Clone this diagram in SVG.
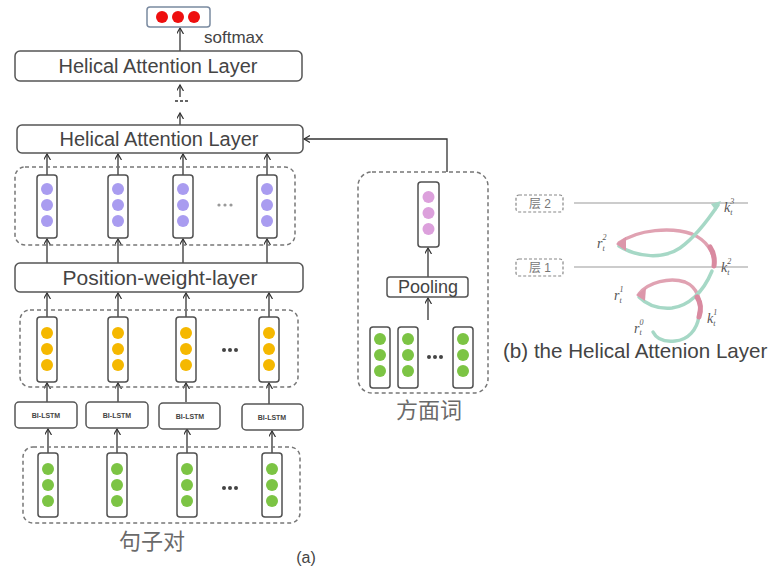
<svg xmlns="http://www.w3.org/2000/svg" width="771" height="570" viewBox="0 0 771 570">
<defs>
<style>
.box{fill:#fff;stroke:#555;stroke-width:1.5}
.vec{fill:#fff;stroke:#505050;stroke-width:1.5}
.dash{fill:none;stroke:#777;stroke-width:1.5;stroke-dasharray:4 3}
.lbl{font-family:"Liberation Sans",Arial,sans-serif;fill:#444;text-anchor:middle}
.cjk{font-family:"Liberation Serif","Noto Sans CJK SC",serif;fill:#6a6a6a;text-anchor:middle}
.arr{fill:none;stroke:#333;stroke-width:1.3;marker-end:url(#ah)}
.pu{fill:#a99cf0}.ye{fill:#f5b800}.gr{fill:#7cc444}.pk{fill:#dca0dc}.rd{fill:#ee0f0f}
.ell{fill:#444}.ell2{fill:#999}
.m{font-family:"Liberation Serif",serif;font-style:italic;fill:#555;font-size:14px}
.s{font-size:8px}
.hp{fill:none;stroke:#e0a2b2;stroke-width:3.5;stroke-linecap:round}
.hg{fill:none;stroke:#a6d8c6;stroke-width:3.5;stroke-linecap:round}
</style>
<marker id="ah" markerWidth="8" markerHeight="8" refX="6" refY="3.5" orient="auto" markerUnits="userSpaceOnUse">
<path d="M0,0 L6,3.5 L0,7" fill="none" stroke="#333" stroke-width="1.2"/>
</marker>
</defs>
<rect width="771" height="570" fill="#fff"/>

<!-- connectors -->
<g id="connectors">
<line class="arr" x1="180" y1="51" x2="180" y2="28"/>
<line class="arr" x1="180" y1="97" x2="180" y2="85"/>
<line x1="175" y1="101" x2="189" y2="101" stroke="#333" stroke-width="1.3" stroke-dasharray="3 2"/>
<line class="arr" x1="180" y1="125" x2="180" y2="113"/>
<line class="arr" x1="47" y1="175" x2="47" y2="154"/>
<line class="arr" x1="118" y1="175" x2="118" y2="154"/>
<line class="arr" x1="183" y1="175" x2="183" y2="154"/>
<line class="arr" x1="267" y1="175" x2="267" y2="154"/>
<line class="arr" x1="47" y1="263" x2="47" y2="239"/>
<line class="arr" x1="118" y1="263" x2="118" y2="239"/>
<line class="arr" x1="183" y1="263" x2="183" y2="239"/>
<line class="arr" x1="267" y1="263" x2="267" y2="239"/>
<line class="arr" x1="47" y1="317" x2="47" y2="293"/>
<line class="arr" x1="118" y1="317" x2="118" y2="293"/>
<line class="arr" x1="186" y1="317" x2="186" y2="293"/>
<line class="arr" x1="269" y1="317" x2="269" y2="293"/>
<line class="arr" x1="47" y1="402" x2="47" y2="383"/>
<line class="arr" x1="118" y1="402" x2="118" y2="383"/>
<line class="arr" x1="186" y1="402" x2="186" y2="383"/>
<line class="arr" x1="269" y1="404" x2="269" y2="383"/>
<line class="arr" x1="48" y1="453" x2="48" y2="429"/>
<line class="arr" x1="117" y1="453" x2="117" y2="429"/>
<line class="arr" x1="187" y1="453" x2="187" y2="429"/>
<line class="arr" x1="272" y1="453" x2="272" y2="431"/>
<line class="arr" x1="428" y1="320" x2="428" y2="298"/>
<line class="arr" x1="428" y1="277" x2="428" y2="248"/>
<path class="arr" d="M447,172 V139 H304"/>
</g>

<!-- softmax output -->
<g id="softmax">
<rect x="147" y="7" width="63" height="20" rx="3" fill="#fff" stroke="#7a8aa0" stroke-width="1.5"/>
<circle class="rd" cx="162" cy="17" r="6"/>
<circle class="rd" cx="178" cy="17" r="6"/>
<circle class="rd" cx="194" cy="17" r="6"/>
<text class="lbl" x="204" y="43" font-size="17" style="text-anchor:start">softmax</text>
</g>

<g id="hal2">
<rect class="box" x="15" y="51" width="287" height="30" rx="5"/>
<text class="lbl" x="158" y="73" font-size="20">Helical Attention Layer</text>
</g>

<g id="hal1">
<rect class="box" x="17" y="125" width="286" height="28" rx="5"/>
<text class="lbl" x="159" y="146" font-size="20">Helical Attention Layer</text>
</g>

<g id="purple-vectors">
<rect class="dash" x="15" y="167" width="280" height="78" rx="10"/>
<rect class="vec" x="37" y="175" width="20" height="63" rx="3"/>
<circle class="pu" cx="47" cy="189" r="6"/><circle class="pu" cx="47" cy="205" r="6"/><circle class="pu" cx="47" cy="221" r="6"/>
<rect class="vec" x="108" y="175" width="20" height="63" rx="3"/>
<circle class="pu" cx="118" cy="189" r="6"/><circle class="pu" cx="118" cy="205" r="6"/><circle class="pu" cx="118" cy="221" r="6"/>
<rect class="vec" x="173" y="175" width="20" height="63" rx="3"/>
<circle class="pu" cx="183" cy="189" r="6"/><circle class="pu" cx="183" cy="205" r="6"/><circle class="pu" cx="183" cy="221" r="6"/>
<rect class="vec" x="257" y="175" width="20" height="63" rx="3"/>
<circle class="pu" cx="267" cy="189" r="6"/><circle class="pu" cx="267" cy="205" r="6"/><circle class="pu" cx="267" cy="221" r="6"/>
<circle class="ell2" cx="219" cy="205" r="1.6"/><circle class="ell2" cx="225" cy="205" r="1.6"/><circle class="ell2" cx="231" cy="205" r="1.6"/>
</g>

<g id="pwl">
<rect class="box" x="15" y="263" width="288" height="29" rx="5"/>
<text class="lbl" x="160" y="285" font-size="21">Position-weight-layer</text>
</g>

<g id="yellow-vectors">
<rect class="dash" x="20" y="310" width="278" height="77" rx="10"/>
<rect class="vec" x="37" y="317" width="20" height="65" rx="3"/>
<circle class="ye" cx="47" cy="333" r="6"/><circle class="ye" cx="47" cy="349" r="6"/><circle class="ye" cx="47" cy="365" r="6"/>
<rect class="vec" x="108" y="317" width="20" height="65" rx="3"/>
<circle class="ye" cx="118" cy="333" r="6"/><circle class="ye" cx="118" cy="349" r="6"/><circle class="ye" cx="118" cy="365" r="6"/>
<rect class="vec" x="176" y="317" width="20" height="65" rx="3"/>
<circle class="ye" cx="186" cy="333" r="6"/><circle class="ye" cx="186" cy="349" r="6"/><circle class="ye" cx="186" cy="365" r="6"/>
<rect class="vec" x="259" y="317" width="20" height="65" rx="3"/>
<circle class="ye" cx="269" cy="333" r="6"/><circle class="ye" cx="269" cy="349" r="6"/><circle class="ye" cx="269" cy="365" r="6"/>
<circle class="ell" cx="224" cy="350" r="2"/><circle class="ell" cx="230" cy="350" r="2"/><circle class="ell" cx="236" cy="350" r="2"/>
</g>

<g id="bilstm">
<rect class="box" x="15" y="402" width="62" height="26" rx="4"/>
<text class="lbl" x="46" y="418" font-size="7" font-weight="bold">BI-LSTM</text>
<rect class="box" x="86" y="402" width="62" height="26" rx="4"/>
<text class="lbl" x="117" y="418" font-size="7" font-weight="bold">BI-LSTM</text>
<rect class="box" x="159" y="403" width="61" height="26" rx="4"/>
<text class="lbl" x="190" y="419" font-size="7" font-weight="bold">BI-LSTM</text>
<rect class="box" x="242" y="404" width="61" height="26" rx="4"/>
<text class="lbl" x="272" y="420" font-size="7" font-weight="bold">BI-LSTM</text>
</g>

<g id="green-vectors">
<rect class="dash" x="23" y="447" width="277" height="76" rx="10"/>
<rect class="vec" x="38" y="453" width="20" height="64" rx="3"/>
<circle class="gr" cx="48" cy="469" r="6"/><circle class="gr" cx="48" cy="485" r="6"/><circle class="gr" cx="48" cy="501" r="6"/>
<rect class="vec" x="107" y="453" width="20" height="64" rx="3"/>
<circle class="gr" cx="117" cy="469" r="6"/><circle class="gr" cx="117" cy="485" r="6"/><circle class="gr" cx="117" cy="501" r="6"/>
<rect class="vec" x="177" y="453" width="20" height="64" rx="3"/>
<circle class="gr" cx="187" cy="469" r="6"/><circle class="gr" cx="187" cy="485" r="6"/><circle class="gr" cx="187" cy="501" r="6"/>
<rect class="vec" x="262" y="453" width="20" height="64" rx="3"/>
<circle class="gr" cx="272" cy="469" r="6"/><circle class="gr" cx="272" cy="485" r="6"/><circle class="gr" cx="272" cy="501" r="6"/>
<circle class="ell" cx="224" cy="488" r="2"/><circle class="ell" cx="230" cy="488" r="2"/><circle class="ell" cx="236" cy="488" r="2"/>
<text class="cjk" x="152" y="549" font-size="22">句子对</text>
</g>

<g id="aspect">
<rect class="dash" x="358" y="172" width="130" height="221" rx="14"/>
<rect class="vec" x="418" y="182" width="21" height="65" rx="3"/>
<circle class="pk" cx="428.5" cy="197" r="6"/><circle class="pk" cx="428.5" cy="213" r="6"/><circle class="pk" cx="428.5" cy="229" r="6"/>
<rect class="box" x="387" y="277" width="81" height="20" rx="3"/>
<text class="lbl" x="428" y="293" font-size="18">Pooling</text>
<rect class="vec" x="370" y="327" width="20" height="61" rx="3"/>
<circle class="gr" cx="380" cy="339" r="6"/><circle class="gr" cx="380" cy="355" r="6"/><circle class="gr" cx="380" cy="371" r="6"/>
<rect class="vec" x="398" y="327" width="20" height="61" rx="3"/>
<circle class="gr" cx="408" cy="339" r="6"/><circle class="gr" cx="408" cy="355" r="6"/><circle class="gr" cx="408" cy="371" r="6"/>
<rect class="vec" x="453" y="327" width="20" height="61" rx="3"/>
<circle class="gr" cx="463" cy="339" r="6"/><circle class="gr" cx="463" cy="355" r="6"/><circle class="gr" cx="463" cy="371" r="6"/>
<circle class="ell" cx="429" cy="357" r="2"/><circle class="ell" cx="435" cy="357" r="2"/><circle class="ell" cx="441" cy="357" r="2"/>
<text class="cjk" x="429" y="418" font-size="22">方面词</text>
</g>

<text class="lbl" x="306" y="563" font-size="16">(a)</text>

<!-- (b) helical attention layer -->
<g id="helix">
<line x1="574" y1="203" x2="748" y2="203" stroke="#999" stroke-width="1"/>
<line x1="574" y1="267" x2="748" y2="267" stroke="#999" stroke-width="1"/>
<g id="layer2">
<rect x="516" y="195" width="47" height="17" rx="3" fill="#fff" stroke="#888" stroke-width="1.2" stroke-dasharray="3 2"/>
<text x="540" y="208" font-size="12" fill="#777" text-anchor="middle" font-family="Liberation Sans,Noto Sans CJK SC,sans-serif">层 2</text>
</g>
<g id="layer1">
<rect x="516" y="259" width="47" height="17" rx="3" fill="#fff" stroke="#888" stroke-width="1.2" stroke-dasharray="3 2"/>
<text x="540" y="272" font-size="12" fill="#777" text-anchor="middle" font-family="Liberation Sans,Noto Sans CJK SC,sans-serif">层 1</text>
</g>
<path class="hg" d="M653,332 C657,340 666,342 675,341 C688,340 697,330 699,316"/>
<path class="hp" d="M699,314 C702,300 697,287 685,282 C670,277 648,282 639,294"/>
<path class="hg" d="M639,297 C648,306 660,309 672,308 C688,306 703,293 712,271"/>
<path class="hp" d="M714,266 C715,252 706,240 692,234 C672,227 638,229 619,243"/>
<path class="hg" d="M619,246 C638,258 664,259 680,248 C694,238 708,220 718,205"/>
<path d="M697,297 C701,303 701,311 699,317" fill="none" stroke="#d98aa0" stroke-width="5" stroke-linecap="round"/>
<path d="M710,247 C714,253 715,259 714,266" fill="none" stroke="#d98aa0" stroke-width="5" stroke-linecap="round"/>
<path d="M636,295 L646,288 L645,301 Z" fill="#dc96aa"/>
<path d="M616,244 L626,237 L626,251 Z" fill="#dc96aa"/>
<path d="M721,201 L711,204 L716,211 Z" fill="#a6d8c6"/>
<text class="m" x="724" y="212">k<tspan class="s" dy="-8">3</tspan><tspan class="s" dx="-4" dy="11">t</tspan></text>
<text class="m" x="597" y="248">r<tspan class="s" dy="-8">2</tspan><tspan class="s" dx="-4" dy="11">t</tspan></text>
<text class="m" x="721" y="272">k<tspan class="s" dy="-8">2</tspan><tspan class="s" dx="-4" dy="11">t</tspan></text>
<text class="m" x="614" y="300">r<tspan class="s" dy="-8">1</tspan><tspan class="s" dx="-4" dy="11">t</tspan></text>
<text class="m" x="707" y="323">k<tspan class="s" dy="-8">1</tspan><tspan class="s" dx="-4" dy="11">t</tspan></text>
<text class="m" x="634" y="333">r<tspan class="s" dy="-8">0</tspan><tspan class="s" dx="-4" dy="10">t</tspan></text>
<text x="503" y="358" font-size="20.6" fill="#444" font-family="Liberation Sans,Arial,sans-serif">(b) the Helical Attenion Layer</text>
</g>
</svg>
